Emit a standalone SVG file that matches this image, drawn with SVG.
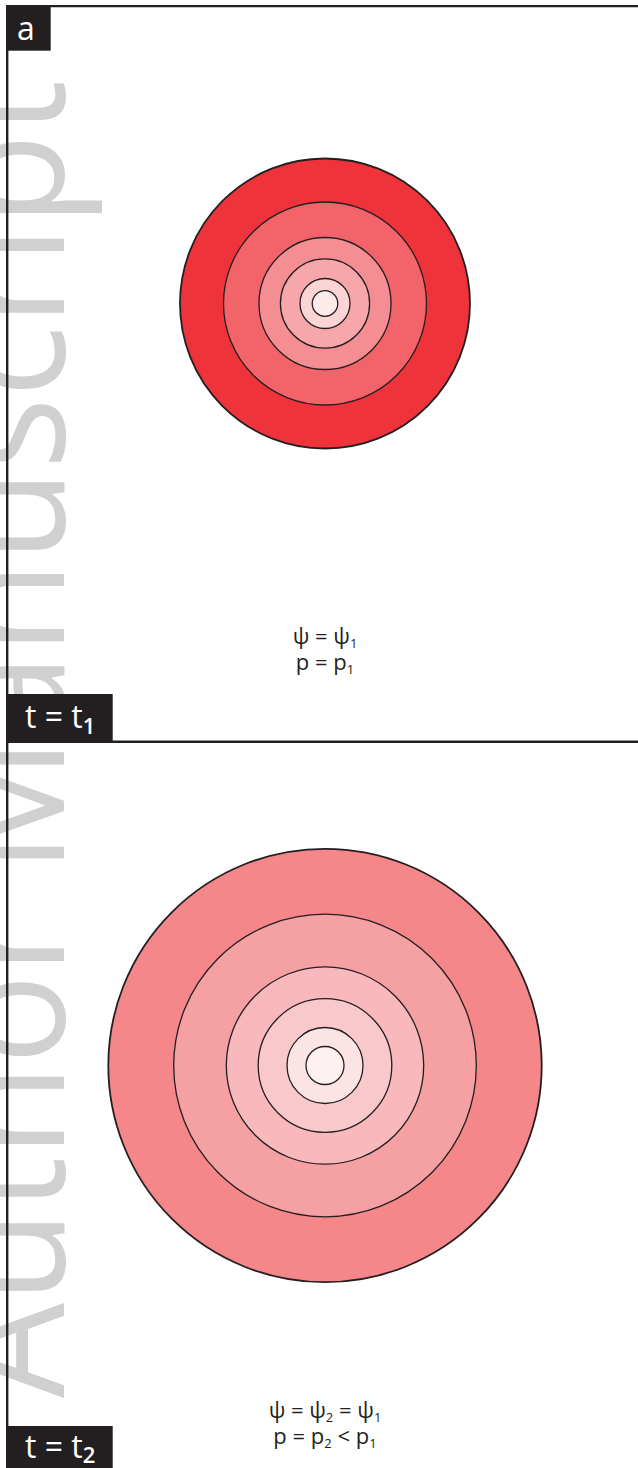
<svg xmlns="http://www.w3.org/2000/svg" width="638" height="1468" viewBox="0 0 638 1468">
<style>
.ring{stroke:#231f20;stroke-width:1.3}
.outer{stroke:#231f20;stroke-width:1.8}
.eq{font-family:"Open Sans","Liberation Sans",sans-serif;font-size:22px;fill:#231f20;text-anchor:middle}
.sub{font-size:13px}
.lbl{font-family:"Open Sans","Liberation Sans",sans-serif;font-size:32px;fill:#ffffff}
.box{fill:#231f20}
.frame{stroke:#231f20;fill:none}
.wm{font-family:"Open Sans","Liberation Sans",sans-serif;font-weight:400;font-size:160px;fill:#d0d0d0}
</style>
<rect width="638" height="1468" fill="#ffffff"/>
<g id="watermark">
<text class="wm" transform="translate(64,1398) rotate(-90)" textLength="1318" lengthAdjust="spacingAndGlyphs">Author Manuscript</text>
</g>
<g id="frame">
<line class="frame" x1="7" y1="6.2" x2="638" y2="6.2" stroke-width="2.3"/>
<line class="frame" x1="7.2" y1="5" x2="7.2" y2="1468" stroke-width="2.4"/>
<line class="frame" x1="7" y1="741.7" x2="638" y2="741.7" stroke-width="2.6"/>
</g>
<g id="panel-a-label">
<rect class="box" x="6" y="7" width="44.7" height="43.7"/>
<text class="lbl" x="17" y="40">a</text>
</g>
<g id="circles-t1">
<circle class="outer" cx="325" cy="303.5" r="145" fill="#ee333b"/>
<circle class="ring" cx="325" cy="303.5" r="101.5" fill="#f2636a"/>
<circle class="ring" cx="325" cy="303.5" r="66" fill="#f58e92"/>
<circle class="ring" cx="325" cy="303.5" r="44.6" fill="#f7a7aa"/>
<circle class="ring" cx="325" cy="303.5" r="25" fill="#fbd4d6"/>
<circle class="ring" cx="325" cy="303.5" r="12.8" fill="#fdeaeb"/>
</g>
<g id="eq-t1">
<text class="eq" x="325" y="644">ψ = ψ<tspan class="sub" dy="4">1</tspan></text>
<text class="eq" x="325" y="670">p = p<tspan class="sub" dy="4">1</tspan></text>
</g>
<g id="label-t1">
<rect class="box" x="6" y="694" width="106.7" height="47"/>
<text class="lbl" x="25" y="728">t = t<tspan font-size="22" font-weight="600" dy="6">1</tspan></text>
</g>
<g id="circles-t2">
<circle class="outer" cx="325" cy="1065.5" r="216.7" fill="#f5868a"/>
<circle class="ring" cx="325" cy="1065.5" r="151.3" fill="#f5a0a3"/>
<circle class="ring" cx="325" cy="1065.5" r="98.7" fill="#f8b8bc"/>
<circle class="ring" cx="325" cy="1065.5" r="66.8" fill="#f9c8cb"/>
<circle class="ring" cx="325" cy="1065.5" r="38" fill="#fce3e4"/>
<circle class="ring" cx="325" cy="1065.5" r="19" fill="#fef1f1"/>
</g>
<g id="eq-t2">
<text class="eq" x="325" y="1418">ψ = ψ<tspan class="sub" dy="4">2</tspan><tspan dy="-4"> = ψ</tspan><tspan class="sub" dy="4">1</tspan></text>
<text class="eq" x="325" y="1444">p = p<tspan class="sub" dy="4">2</tspan><tspan dy="-4"> &lt; p</tspan><tspan class="sub" dy="4">1</tspan></text>
</g>
<g id="label-t2">
<rect class="box" x="6" y="1426" width="106.7" height="42"/>
<text class="lbl" x="25" y="1458">t = t<tspan font-size="22" font-weight="600" dy="5">2</tspan></text>
</g>
</svg>
